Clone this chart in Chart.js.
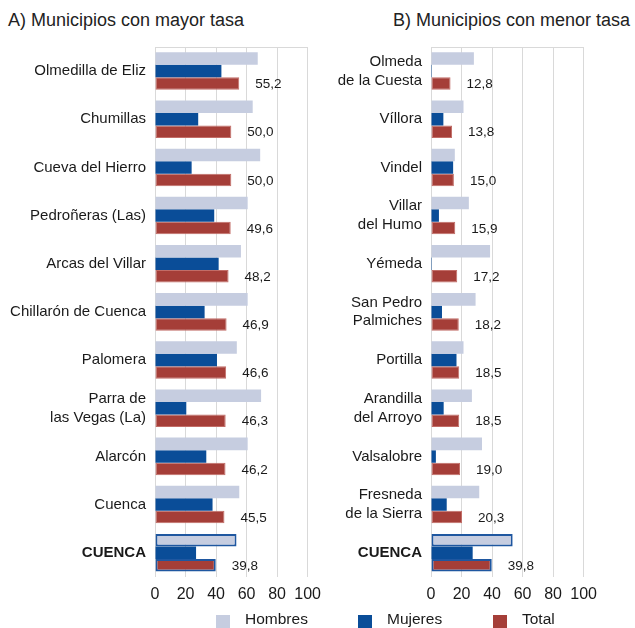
<!DOCTYPE html>
<html>
<head>
<meta charset="utf-8">
<script src="https://cdn.jsdelivr.net/npm/chart.js@4"></script>
<style>
  body { margin: 0; background: #fff; }
  #wrap { position: relative; width: 635px; height: 628px; overflow: hidden; font-family: "Liberation Sans", Arial, sans-serif; color: #1a1a1a; }
  .titulo { position: absolute; top: 10px; font-family: "Liberation Sans", Arial, sans-serif; font-size: 18px; color: #222; white-space: nowrap; }
  canvas { position: absolute; top: 0; }
  .ley { position: absolute; top: 610px; font-size: 15.5px; white-space: nowrap; }
  .ley i { position: absolute; left: -29px; top: 5px; width: 14px; height: 13px; }
</style>
</head>
<body>
<div id="wrap">
  <div class="titulo" style="left:8px">A) Municipios con mayor tasa</div>
  <div class="titulo" style="left:393px">B) Municipios con menor tasa</div>
  <canvas id="chart-a" width="329" height="628" style="left:0"></canvas>
  <canvas id="chart-b" width="329" height="628" style="left:276px"></canvas>
  <div class="ley" style="left:245px"><i style="background:#c6cde0"></i>Hombres</div>
  <div class="ley" style="left:387px"><i style="background:#0a4d98"></i>Mujeres</div>
  <div class="ley" style="left:522px"><i style="background:#a53e38"></i>Total</div>
</div>
<script>
// Datos: tasas por municipio (mayor y menor tasa)
const municipiosMayor = ['Olmedilla de Eliz', 'Chumillas', 'Cueva del Hierro', 'Pedroñeras (Las)', 'Arcas del Villar',
    'Chillarón de Cuenca', 'Palomera', ['Parra de', 'las Vegas (La)'], 'Alarcón', 'Cuenca', 'CUENCA'];
const hombresMayor = [67.3, 64.0, 68.9, 60.7, 56.3, 60.7, 53.6, 69.5, 60.7, 55.2, 53.4];
const mujeresMayor = [43.5, 28.3, 24.0, 38.8, 41.7, 32.5, 40.6, 20.5, 33.6, 37.7, 26.9];
const totalMayor = [55.2, 50.0, 50.0, 49.6, 48.2, 46.9, 46.6, 46.3, 46.2, 45.5, 39.8];

const municipiosMenor = [['Olmeda', 'de la Cuesta'], 'Víllora', 'Vindel', ['Villar', 'del Humo'], 'Yémeda',
    ['San Pedro', 'Palmiches'], 'Portilla', ['Arandilla', 'del Arroyo'], 'Valsalobre', ['Fresneda', 'de la Sierra'], 'CUENCA'];
const hombresMenor = [28.1, 21.3, 15.6, 24.8, 38.7, 29.2, 21.3, 26.8, 33.4, 31.6, 53.5];
const mujeresMenor = [0.6, 8.1, 14.5, 5.2, 0.6, 7.2, 16.7, 8.3, 3.2, 10.3, 27.3];
const totalMenor = [12.8, 13.8, 15.0, 15.9, 17.2, 18.2, 18.5, 18.5, 19.0, 20.3, 39.8];

const xTicks = [0, 20, 40, 60, 80, 100];

const colores = {
    hombres: '#c6cde0',
    mujeres: '#0a4d98',
    total: '#a53e38',
    marco: '#1f57a0',
    rejilla: '#d9d9d9'
};

const fuente = '"Liberation Sans", Arial, sans-serif';

// Etiqueta con el valor total a la derecha de cada barra roja
const etiquetasTotal = {
    id: 'etiquetasTotal',
    afterDatasetsDraw(chart) {
        const ctx = chart.ctx;
        const meta = chart.getDatasetMeta(2);
        const valores = chart.data.datasets[2].data;
        ctx.save();
        ctx.font = '13.5px ' + fuente;
        ctx.fillStyle = '#1a1a1a';
        ctx.textAlign = 'left';
        ctx.textBaseline = 'middle';
        meta.data.forEach((bar, i) => {
            ctx.fillText(valores[i].toFixed(1).replace('.', ','), bar.x + 16, bar.y + 1);
        });
        ctx.restore();
    }
};

function esCuenca(ctx) {
    return ctx.dataIndex === ctx.chart.data.labels.length - 1;
}

function crearGrafico(id, etiquetas, hombres, mujeres, total) {
    const ctx = document.getElementById(id).getContext('2d');
    return new Chart(ctx, {
        type: 'bar',
        data: {
            labels: etiquetas,
            datasets: [
                {
                    label: 'Hombres', data: hombres, backgroundColor: colores.hombres,
                    borderColor: c => esCuenca(c) ? colores.marco : colores.hombres,
                    borderWidth: c => esCuenca(c) ? 2 : 0,
                    borderSkipped: false
                },
                { label: 'Mujeres', data: mujeres, backgroundColor: colores.mujeres, borderWidth: 0 },
                {
                    label: 'Total', data: total, backgroundColor: colores.total,
                    borderColor: c => esCuenca(c) ? colores.marco : '#c26d67',
                    borderWidth: c => esCuenca(c) ? 2 : 1,
                    borderSkipped: false
                }
            ]
        },
        options: {
            indexAxis: 'y',
            responsive: false,
            animation: false,
            layout: { padding: { top: 47, right: 14, bottom: 16, left: 0 } },
            datasets: { bar: { categoryPercentage: 0.78, barPercentage: 1 } },
            scales: {
                x: {
                    min: 0, max: 100,
                    afterBuildTicks: s => { s.ticks = xTicks.map(v => ({ value: v })); },
                    grid: { color: colores.rejilla, drawTicks: false },
                    border: { display: false },
                    ticks: {
                        padding: 8, color: '#1a1a1a', autoSkip: false, maxRotation: 0, minRotation: 0,
                        font: { family: fuente, size: 16 }
                    }
                },
                x2: {
                    position: 'top', min: 0, max: 100,
                    grid: { display: false, drawTicks: false },
                    border: { display: true, color: colores.rejilla },
                    ticks: { display: false }
                },
                y: {
                    afterFit: s => { s.width = 155; },
                    grid: { display: false, drawTicks: false },
                    border: { display: true, color: colores.rejilla },
                    ticks: {
                        padding: 9, color: '#1a1a1a',
                        font: c => ({ family: fuente, size: 15, lineHeight: 1.25,
                            weight: c.index === etiquetas.length - 1 ? 'bold' : 'normal' })
                    }
                }
            },
            plugins: { legend: { display: false }, tooltip: { enabled: false } }
        },
        plugins: [etiquetasTotal]
    });
}

if (typeof Chart === 'undefined') {
    console.error('Chart.js no está cargado');
} else {
    crearGrafico('chart-a', municipiosMayor, hombresMayor, mujeresMayor, totalMayor);
    crearGrafico('chart-b', municipiosMenor, hombresMenor, mujeresMenor, totalMenor);
}
</script>
</body>
</html>
